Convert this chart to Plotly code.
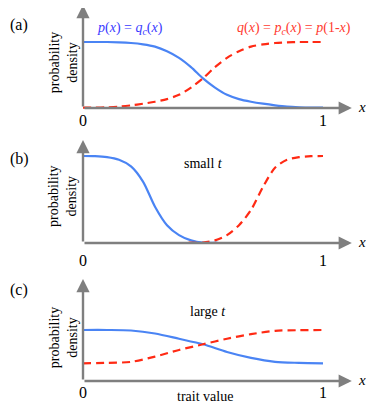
import plotly.graph_objects as go

# values (y in units of panel (a) peak)
x_a = [0, 0.05, 0.1, 0.15, 0.2, 0.25, 0.3, 0.35, 0.4, 0.45, 0.5,
       0.55, 0.6, 0.65, 0.7, 0.75, 0.8, 0.85, 0.9, 0.95, 1.0]
p_a = [1.0, 1.0, 1.0, 0.995, 0.985, 0.965, 0.93, 0.86, 0.76, 0.62, 0.45,
       0.31, 0.2, 0.135, 0.095, 0.065, 0.04, 0.02, 0.01, 0.005, 0.005]
q_a = [0.005, 0.005, 0.01, 0.02, 0.04, 0.065, 0.095, 0.135, 0.2, 0.31, 0.45,
       0.62, 0.76, 0.86, 0.93, 0.965, 0.985, 0.995, 1.0, 1.0, 1.0]

x_b_p = [0, 0.05, 0.1, 0.15, 0.2, 0.25, 0.3, 0.35, 0.4, 0.45, 0.5, 0.56]
p_b = [1.318, 1.315, 1.30, 1.26, 1.16, 0.93, 0.55, 0.27, 0.12, 0.04, 0.005, 0.005]
x_b_q = [0.44, 0.5, 0.55, 0.6, 0.65, 0.7, 0.75, 0.8, 0.85, 0.9, 0.95, 1.0]
q_b = [0.005, 0.005, 0.04, 0.12, 0.27, 0.5, 0.85, 1.14, 1.26, 1.30, 1.315, 1.318]

x_c = [0, 0.1, 0.2, 0.3, 0.4, 0.5, 0.6, 0.7, 0.8, 0.9, 1.0]
p_c = [0.773, 0.773, 0.765, 0.72, 0.64, 0.556, 0.44, 0.35, 0.29, 0.275, 0.268]
q_c = [0.268, 0.275, 0.29, 0.37, 0.47, 0.556, 0.64, 0.71, 0.76, 0.77, 0.773]

panel_labels = ["(a)", "(b)", "(c)"]
tick_labels = ["0", "1"]

BLUE = "#4a84f4"
RED = "#ff2a14"
GRAY = "#7f7f7f"
FONT = "Liberation Serif, Tinos, Times New Roman, DejaVu Serif, serif"

OFF = 8                   # the page body margin
W, H = 374 - OFF, 413 - OFF
X0, X1 = 83 - OFF, 323 - OFF   # pixel of x=0 and x=1
PX = 66                   # pixels per y unit
# (top pixel, bottom pixel, axis pixel) for each panel, in figure pixels
panels = [(0, 135 - OFF, 108 - OFF), (135 - OFF, 275 - OFF, 243 - OFF), (275 - OFF, H, 381 - OFF)]

fig = go.Figure()
curves = [
    [(x_a, p_a, BLUE, None), (x_a, q_a, RED, "8px,5px")],
    [(x_b_p, p_b, BLUE, None), (x_b_q, q_b, RED, "8px,5px")],
    [(x_c, p_c, BLUE, None), (x_c, q_c, RED, "8px,5px")],
]

xr = [-X0 / (X1 - X0), (W - X0) / (X1 - X0)]
layout_axes = {}
for i, (top, bot, ax_px) in enumerate(panels):
    n = "" if i == 0 else str(i + 1)
    layout_axes["xaxis" + n] = dict(domain=[0, 1], range=xr, visible=False,
                                    anchor="y" + n)
    layout_axes["yaxis" + n] = dict(domain=[1 - bot / H, 1 - top / H],
                                    range=[-(bot - ax_px) / PX, (ax_px - top) / PX],
                                    visible=False, anchor="x" + n)
    for xs, ys, col, dash in curves[i]:
        fig.add_trace(go.Scatter(x=xs, y=ys, mode="lines", xaxis="x" + n, yaxis="y" + n,
                                 line=dict(color=col, width=2.2, dash=dash, shape="spline",
                                           smoothing=0.8),
                                 showlegend=False, hoverinfo="skip"))

fig.update_layout(width=W, height=H, margin=dict(l=0, r=0, t=0, b=0),
                  plot_bgcolor="white", paper_bgcolor="white",
                  font=dict(family=FONT), **layout_axes)


def ann(i, x, y, text, size=14, color="black", angle=0, xanchor="center"):
    n = "" if i == 0 else str(i + 1)
    fig.add_annotation(x=x, y=y, xref="x" + n, yref="y" + n, text=text, showarrow=False,
                       textangle=angle, xanchor=xanchor,
                       font=dict(family=FONT, size=size, color=color))


y_tops = [1.56, 1.56, 1.545]
lbl_y = [1.26, 1.27, 1.38]
pd_y = [0.68, 0.70, 0.65]
tick_y = [-0.19, -0.26, -0.17]
for i in range(3):
    n = "" if i == 0 else str(i + 1)
    # axes with arrow heads
    for (tx, ty) in [(1.12, 0), (0, y_tops[i])]:
        fig.add_annotation(x=tx, y=ty, ax=0, ay=0, xref="x" + n, yref="y" + n,
                           axref="x" + n, ayref="y" + n, text="", showarrow=True,
                           arrowhead=2, arrowsize=1.1, arrowwidth=2.4, arrowcolor=GRAY)
    ann(i, xr[0], lbl_y[i], panel_labels[i], size=16, xanchor="left")
    ann(i, -0.083, pd_y[i], "probability<br>density", size=14, angle=-90)
    ann(i, 1.1625, 0.02, "<i>x</i>", size=15)
    for tx, tl in zip([0, 1], tick_labels):
        ann(i, tx, tick_y[i], tl, size=16)

ann(0, 0.196, 1.21, "<i>p</i>(<i>x</i>) = <i>q<sub>c</sub></i>(<i>x</i>)", size=14, color="#3a3aff")
ann(0, 0.879, 1.21, "<i>q</i>(<i>x</i>) = <i>p<sub>c</sub></i>(<i>x</i>) = <i>p</i>(1-<i>x</i>)",
    size=14, color="#ff3a30")
ann(1, 0.504, 1.20, "small <i>t</i>", size=14)
ann(2, 0.52, 1.06, "large <i>t</i>", size=14)
ann(2, 0.51, -0.24, "trait value", size=14)

fig.write_html("out.html")
